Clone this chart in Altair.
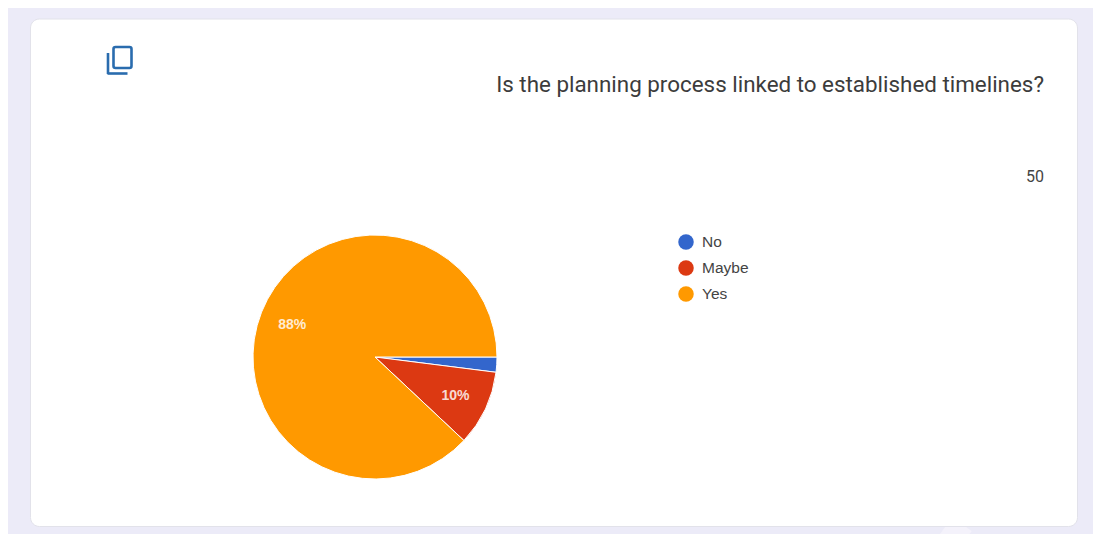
import math
import altair as alt
import pandas as pd

categories = ["No", "Maybe", "Yes"]
values = [2, 10, 88]
labels = ["", "10%", "88%"]
ranks = [1, 2, 3]
colors = ["#3366cc", "#dc3912", "#ff9900"]

OX, OY = 8, 8
W, H = 1085, 526
def px(v): return alt.value(v - OX)
def py(v): return alt.value(v - OY)

df = pd.DataFrame({"answer": categories, "count": values, "label": labels, "rank": ranks})
one = pd.DataFrame({"a": [0]})

stripe = alt.Chart(one).mark_rule(color="#f4f2fb", strokeWidth=24).encode(
    x=px(962), x2=px(949), y=py(524), y2=py(542))
card = alt.Chart(one).mark_rect(color="#ffffff", stroke="#e2e2ea", strokeWidth=1, cornerRadius=9).encode(
    x=px(30.5), x2=px(1077.5), y=py(19), y2=py(526.5))

icon_color = "#2a6cae"
icon_box = alt.Chart(one).mark_rect(fill="#ffffff", stroke=icon_color, strokeWidth=2.6, cornerRadius=2).encode(
    x=px(113.5), x2=px(131.5), y=py(47), y2=py(68))
icon_v = alt.Chart(one).mark_rule(color=icon_color, strokeWidth=2.6).encode(
    x=px(108), y=py(53), y2=py(74))
icon_h = alt.Chart(one).mark_rule(color=icon_color, strokeWidth=2.6).encode(
    x=px(107.5), x2=px(127.5), y=py(73.5))

title = alt.Chart(pd.DataFrame({"t": ["Is the planning process linked to established timelines?"]})).mark_text(
    align="right", baseline="middle", font="Roboto", fontSize=22.4, color="#3c3c3c").encode(
    text="t:N", x=px(1044), y=py(85))
count_txt = alt.Chart(pd.DataFrame({"t": ["50"]})).mark_text(
    align="right", baseline="middle", font="Roboto", fontSize=16, color="#444444").encode(
    text="t:N", x=px(1044), y=py(177))

theta = alt.Theta("count:Q", stack=True,
                  scale=alt.Scale(domain=[0, sum(values)], range=[math.pi / 2, math.pi * 2.5]))
order = alt.Order("rank:Q", sort="ascending")

pie = alt.Chart(df).mark_arc(outerRadius=122, stroke="#ffffff", strokeWidth=1).encode(
    theta=theta,
    order=order,
    x=px(375), y=py(357),
    color=alt.Color("answer:N",
        scale=alt.Scale(domain=categories, range=colors),
        sort=categories,
        legend=alt.Legend(orient="none", legendX=678 - OX, legendY=234 - OY, title=None,
                          symbolType="circle", symbolSize=240, symbolStrokeWidth=0,
                          labelFont="Liberation Sans", labelFontSize=15.5, labelColor="#444444",
                          rowPadding=9, labelOffset=8, labelLimit=200)),
)
pie_labels = alt.Chart(df).mark_text(radius=89, dy=1, font="Liberation Sans", fontSize=14, fontWeight="bold",
                                     color="#ffffff", opacity=0.82).encode(
    theta=theta, order=order, text="label:N", x=px(375), y=py(357))

chart = alt.layer(stripe, card, icon_box, icon_v, icon_h, title, count_txt, pie, pie_labels).properties(
    width=W, height=H, background="#ecebf8", padding=0,
    autosize=alt.AutoSizeParams(type="none"),
).configure_view(strokeWidth=0)

chart.save("out.html", embed_options={"renderer": "svg", "actions": False})
